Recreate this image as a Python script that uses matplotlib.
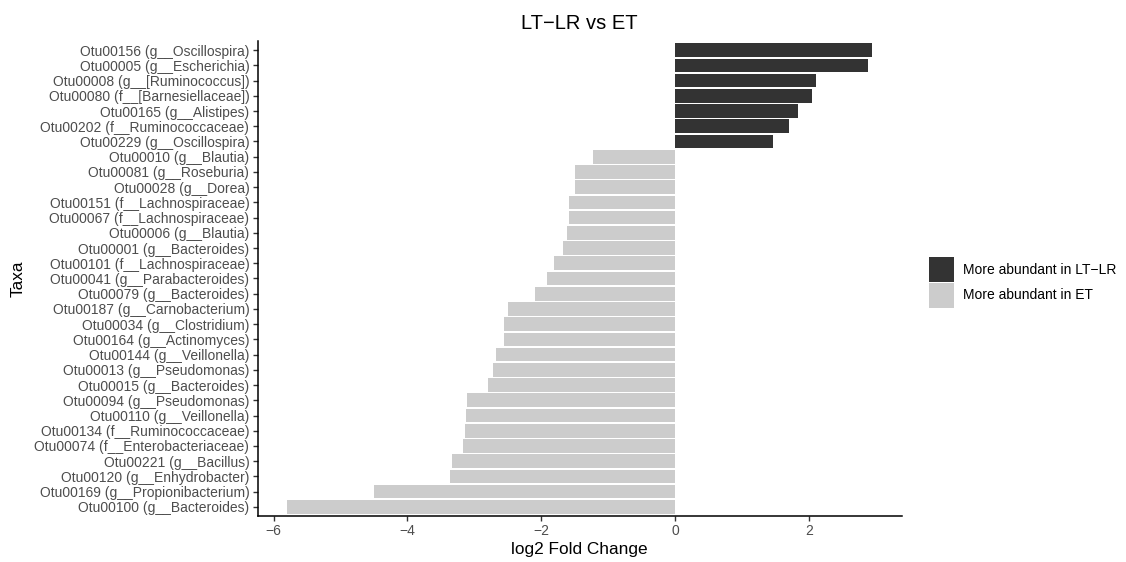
import matplotlib
matplotlib.use("Agg")
import matplotlib.pyplot as plt
from matplotlib.patches import Rectangle

plt.rcParams['font.family'] = ['Liberation Sans', 'DejaVu Sans']

# Differentially abundant OTUs, ordered top to bottom
taxa = [
    "Otu00156 (g__Oscillospira)",
    "Otu00005 (g__Escherichia)",
    "Otu00008 (g__[Ruminococcus])",
    "Otu00080 (f__[Barnesiellaceae])",
    "Otu00165 (g__Alistipes)",
    "Otu00202 (f__Ruminococcaceae)",
    "Otu00229 (g__Oscillospira)",
    "Otu00010 (g__Blautia)",
    "Otu00081 (g__Roseburia)",
    "Otu00028 (g__Dorea)",
    "Otu00151 (f__Lachnospiraceae)",
    "Otu00067 (f__Lachnospiraceae)",
    "Otu00006 (g__Blautia)",
    "Otu00001 (g__Bacteroides)",
    "Otu00101 (f__Lachnospiraceae)",
    "Otu00041 (g__Parabacteroides)",
    "Otu00079 (g__Bacteroides)",
    "Otu00187 (g__Carnobacterium)",
    "Otu00034 (g__Clostridium)",
    "Otu00164 (g__Actinomyces)",
    "Otu00144 (g__Veillonella)",
    "Otu00013 (g__Pseudomonas)",
    "Otu00015 (g__Bacteroides)",
    "Otu00094 (g__Pseudomonas)",
    "Otu00110 (g__Veillonella)",
    "Otu00134 (f__Ruminococcaceae)",
    "Otu00074 (f__Enterobacteriaceae)",
    "Otu00221 (g__Bacillus)",
    "Otu00120 (g__Enhydrobacter)",
    "Otu00169 (g__Propionibacterium)",
    "Otu00100 (g__Bacteroides)",
]
log2fc = [
    2.95, 2.89, 2.10, 2.05, 1.84, 1.70, 1.46,
    -1.22, -1.49, -1.50, -1.59, -1.59, -1.61, -1.68, -1.81, -1.92,
    -2.09, -2.49, -2.55, -2.55, -2.67, -2.72, -2.80, -3.11, -3.12,
    -3.14, -3.17, -3.34, -3.36, -4.50, -5.80,
]
x_ticks = [-6, -4, -2, 0, 2]
group_labels = ["More abundant in LT\u2212LR", "More abundant in ET"]
group_colors = ["#333333", "#CCCCCC"]

fig = plt.figure(figsize=(11.26, 5.62), dpi=100)
ax = fig.add_axes([0.2288, 0.0819, 0.8008 - 0.2288, 0.927 - 0.0819])

n = len(taxa)
ypos = list(range(n))
colors = [group_colors[0] if v > 0 else group_colors[1] for v in log2fc]
ax.barh(ypos, log2fc, height=0.9, color=colors, edgecolor='none')

ax.set_ylim(n - 1 + 0.6, -0.6)
lo, hi = min(log2fc + [0]), max(log2fc + [0])
pad = 0.05 * (hi - lo)
ax.set_xlim(lo - pad, hi + pad)

ax.set_yticks(ypos)
ax.set_yticklabels(taxa)
ax.set_xticks(x_ticks)
ax.set_xticklabels([str(t).replace('-', '\u2212') for t in x_ticks])

for s in ['top', 'right']:
    ax.spines[s].set_visible(False)
for s in ['left', 'bottom']:
    ax.spines[s].set_linewidth(1.1)
    ax.spines[s].set_color('black')

ax.tick_params(axis='both', length=3.8, width=1.0, color='#333333',
               labelcolor='#4D4D4D', labelsize=10, pad=2.2)

ax.set_xlabel("log2 Fold Change", fontsize=12.4, color='black', labelpad=3)
ax.set_ylabel("Taxa", fontsize=12.4, color='black', labelpad=6)
ax.set_title("LT\u2212LR vs ET", fontsize=14.5, color='black', pad=9)

# legend on the right, keys drawn as filled squares
W, H = fig.get_size_inches() * fig.dpi
key_x, key_w, key_h = 929, 25, 25
key_tops = [257, 283]
for top, col, lab in zip(key_tops, group_colors, group_labels):
    fig.add_artist(Rectangle((key_x / W, 1 - (top + key_h) / H), key_w / W, key_h / H,
                             transform=fig.transFigure, facecolor=col, edgecolor='none'))
    fig.text(963 / W, 1 - (top + key_h / 2) / H, lab, fontsize=10,
             color='black', va='center', ha='left')

fig.savefig("out.png", dpi=100)
